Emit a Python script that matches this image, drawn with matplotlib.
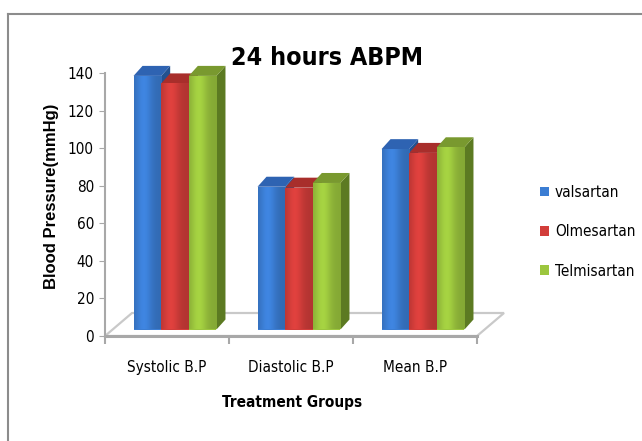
import matplotlib
matplotlib.use('Agg')
import matplotlib.pyplot as plt
import matplotlib.transforms as mtransforms
from matplotlib.patches import Polygon
import numpy as np

# data
categories = ['Systolic B.P', 'Diastolic B.P', 'Mean B.P']
drugs = ['valsartan', 'Olmesartan', 'Telmisartan']
valsartan = [135, 76, 96]
olmesartan = [131, 75.5, 94]
telmisartan = [135, 78, 97]
yticks = [0, 20, 40, 60, 80, 100, 120, 140]

front_cols = ['#3b7dd3', '#d23d3a', '#9cc63e']
top_cols = ['#2e63b2', '#a82e2b', '#79992f']
side_cols = ['#23518f', '#8a2421', '#5c7a22']

plt.rcParams['font.family'] = ['DejaVu Sans']
plt.rcParams['font.stretch'] = 'condensed'

W, H = 642, 441
fig = plt.figure(figsize=(W / 100, H / 100), dpi=100)
# axes placed in pixels: x 105..477, y 73..336
ax = fig.add_axes([105 / W, (H - 336) / H, 372 / W, 263 / H])
ax.set_xlim(-0.5, 2.5)
ax.set_ylim(0, 140)

px_x = 372 / 3      # pixels per category
px_y = 263 / 140    # pixels per unit

# floor (3d base)
fdx, fdy = 27 / px_x, 23 / px_y
floor = Polygon([(-0.5, 0), (2.5, 0), (2.5 + fdx, fdy), (-0.5 + fdx, fdy)],
                closed=True, facecolor='white', edgecolor='#c9c9c9', lw=1.6,
                clip_on=False, zorder=1)
ax.add_patch(floor)
ax.plot([-0.5, 2.5], [0, 0], color='#a8a8a8', lw=2.2, clip_on=False, zorder=1.5)

# bars sit in the middle of the floor depth
shift = mtransforms.offset_copy(ax.transData, fig=fig, x=8, y=6.5, units='dots')
ddx, ddy = 9 / px_x, 10 / px_y

x = np.arange(len(categories))
w = 0.223
series = [valsartan, olmesartan, telmisartan]
handles = []
for i, vals in enumerate(series):
    bars = ax.bar(x + (i - 1) * w, vals, w, color=front_cols[i], lw=0,
                  transform=shift, zorder=3, label=drugs[i], clip_on=False)
    handles.append(bars)
    base = np.array(matplotlib.colors.to_rgb(front_cols[i]))
    t = np.linspace(0, 1, 60)
    m = 0.85 + 0.22 * np.exp(-((t - 0.35) / 0.3) ** 2)
    grad = np.clip(base[None, :] * m[:, None], 0, 1)[None, :, :]
    for b in bars:
        x0, bw, bh = b.get_x(), b.get_width(), b.get_height()
        im = ax.imshow(grad, extent=[x0, x0 + bw, 0, bh], aspect='auto',
                       transform=shift, zorder=3.1, interpolation='bilinear')
        im.set_clip_path(b)
        topf = Polygon([(x0, bh), (x0 + bw, bh), (x0 + bw + ddx, bh + ddy), (x0 + ddx, bh + ddy)],
                       closed=True, facecolor=top_cols[i], lw=0, transform=shift,
                       zorder=2.9, clip_on=False)
        sidef = Polygon([(x0 + bw, 0), (x0 + bw, bh), (x0 + bw + ddx, bh + ddy), (x0 + bw + ddx, ddy)],
                        closed=True, facecolor=side_cols[i], lw=0, transform=shift,
                        zorder=2.8, clip_on=False)
        ax.add_patch(topf)
        ax.add_patch(sidef)

ax.set_xlim(-0.5, 2.5)
ax.set_ylim(0, 140)

for s in ['top', 'right', 'bottom']:
    ax.spines[s].set_visible(False)
ax.spines['left'].set_color('#a8a8a8')
ax.spines['left'].set_linewidth(1.5)

ax.set_yticks(yticks)
ax.tick_params(axis='y', length=4, color='#a8a8a8', labelsize=11, pad=4)
ax.set_xticks(x)
ax.set_xticklabels(categories, fontsize=11)
ax.set_xticks([-0.5, 0.5, 1.5, 2.5], minor=True)
ax.tick_params(axis='x', which='major', length=0, pad=17)
ax.tick_params(axis='x', which='minor', length=6, color='#a8a8a8', width=1.5)

fig.text(52 / W, 1 - 196 / H, 'Blood Pressure(mmHg)', rotation=90, ha='center', va='center',
         fontsize=12, fontweight='bold', family=['Liberation Sans', 'DejaVu Sans'],
         fontstretch='normal')
fig.text(292 / W, 1 - 403 / H, 'Treatment Groups', ha='center', va='center',
         fontsize=11, fontweight='bold')
fig.text(327 / W, 1 - 58 / H, '24 hours ABPM', ha='center', va='center',
         fontsize=18, fontweight='bold')

fig.legend(handles=handles, labels=drugs, loc='upper left',
           bbox_to_anchor=(526 / W, 1 - 171 / H), frameon=False, fontsize=11,
           handlelength=0.6, handleheight=0.6, handletextpad=0.4, labelspacing=1.6)

# chart border (top and left edges visible in the reference)
fig.add_artist(plt.Line2D([8 / W, 1], [1 - 14 / H, 1 - 14 / H], color='#8c8c8c', lw=1.5))
fig.add_artist(plt.Line2D([8 / W, 8 / W], [0, 1 - 14 / H], color='#8c8c8c', lw=1.5))

fig.savefig('out.png', dpi=100)
